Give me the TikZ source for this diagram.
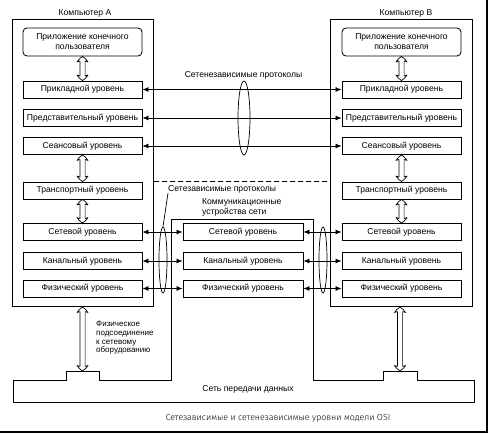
\documentclass[tikz,border=0pt]{standalone}
\usepackage{fontspec}
\setmainfont{Liberation Sans}
\newfontfamily\capfont{Fira Sans Light}
\usetikzlibrary{arrows.meta,shapes.geometric,calc}
\newcommand\hollowarr[2]{%
  \draw[harrowline] let \p1=(#1), \p2=(#2) in
    (\x1,\y1) to[bend left=12] (\x1+5.5pt,\y1-5.5pt) -- (\x1+2.6pt,\y1-4.6pt)
    -- (\x2+2.6pt,\y2+4.6pt) -- (\x2+5.5pt,\y2+5.5pt) to[bend left=12] (\x2,\y2)
    to[bend left=12] (\x2-5.5pt,\y2+5.5pt) -- (\x2-2.6pt,\y2+4.6pt)
    -- (\x1-2.6pt,\y1-4.6pt) -- (\x1-5.5pt,\y1-5.5pt) to[bend left=12] cycle;}
\begin{document}
\begin{tikzpicture}[x=1pt,y=-1pt,
  lay/.style={draw, line width=0.85pt, minimum width=119pt, minimum height=17pt, inner sep=0pt, font=\fontsize{8.6}{10}\selectfont},
  outerbox/.style={draw, line width=0.9pt, anchor=north west, inner sep=0pt},
  harrowline/.style={line width=0.7pt, fill=white, line join=round},
  farrow/.style={line width=0.8pt, {Latex[length=6pt,width=5pt]}-{Latex[length=6pt,width=5pt]}},
  lbl/.style={font=\fontsize{8.6}{10}\selectfont, inner sep=0pt},
  oval/.style={draw, ellipse, line width=0.7pt, inner sep=0pt},
]
\useasboundingbox (0,0) rectangle (489,435);
% frame edges
\draw[line width=1.2pt] (0,432) -- (487,432) -- (487,0);
% outer computer boxes
\node[outerbox, minimum width=141pt, minimum height=287pt] (A) at (12,19) {};
\node[outerbox, minimum width=142pt, minimum height=287pt] (B) at (330,19) {};
\node[lbl] (tA) at (85,13) {Компьютер А};
\node[lbl] (tB) at (406,13) {Компьютер В};
% computer A
\node[lay, rounded corners=4pt, minimum height=28pt, align=center] (Aapp) at (82.5,42) {Приложение конечного\\пользователя};
\node[lay] (Apri) at (82.5,89.5) {Прикладной уровень};
\node[lay] (Apre) at (82.5,118) {Представительный уровень};
\node[lay] (Asea) at (82.5,146) {Сеансовый уровень};
\node[lay] (Atra) at (82.5,190.5) {Транспортный уровень};
\node[lay] (Aset) at (82.5,232) {Сетевой уровень};
\node[lay] (Akan) at (82.5,261) {Канальный уровень};
\node[lay] (Afiz) at (82.5,288.5) {Физический уровень};
% computer B
\node[lay, rounded corners=4pt, minimum height=28pt, align=center] (Bapp) at (401.5,42) {Приложение конечного\\пользователя};
\node[lay] (Bpri) at (401.5,89.5) {Прикладной уровень};
\node[lay] (Bpre) at (401.5,118) {Представительный уровень};
\node[lay] (Bsea) at (401.5,146) {Сеансовый уровень};
\node[lay] (Btra) at (401.5,190.5) {Транспортный уровень};
\node[lay] (Bset) at (401.5,232) {Сетевой уровень};
\node[lay] (Bkan) at (401.5,261) {Канальный уровень};
\node[lay] (Bfiz) at (401.5,288.5) {Физический уровень};
% communication devices
\node[lay, minimum width=120pt] (Cset) at (243,232) {Сетевой уровень};
\node[lay, minimum width=120pt] (Ckan) at (243,261) {Канальный уровень};
\node[lay, minimum width=120pt] (Cfiz) at (243,288.5) {Физический уровень};
% network + comm box outline
\draw[line width=0.9pt] (313,380) -- (383,380) -- (383,371) -- (417,371) -- (417,380) -- (474,380) -- (474,402) -- (13,402) -- (13,380) -- (66,380) -- (66,371) -- (99,371) -- (99,380) -- (171,380) -- (171,219) -- (313,219) -- cycle;
\node[lbl] (net) at (248,389) {Сеть передачи данных};
\coordinate (bumpA) at (82.5,371);
\coordinate (bumpB) at (400,371);
\coordinate (topA) at (82.5,307);
\coordinate (topB) at (400,307);
% dashed separator
\draw[line width=0.7pt, dash pattern=on 5pt off 3pt] (A.east |- 0,181) -- (B.west |- 0,181);
% hollow vertical arrows
\hollowarr{Aapp.south}{Apri.north}
\hollowarr{Asea.south}{Atra.north}
\hollowarr{Atra.south}{Aset.north}
\hollowarr{Bapp.south}{Bpri.north}
\hollowarr{Bsea.south}{Btra.north}
\hollowarr{Btra.south}{Bset.north}
\hollowarr{topA}{bumpA}
\hollowarr{topB}{bumpB}
% upper protocols
\draw[farrow] (Apri) -- (Bpri);
\draw[farrow] (Apre) -- (Bpre);
\draw[farrow] (Asea) -- (Bsea);
\node[oval, minimum width=12pt, minimum height=74pt] (e1) at (244,118) {};
\node[lbl] (ltop) at (243.5,75) {Сетенезависимые протоколы};
% lower protocols
\draw[farrow] (Aset) -- (Cset);
\draw[farrow] (Akan) -- (Ckan);
\draw[farrow] (Afiz) -- (Cfiz);
\draw[farrow] (Cset) -- (Bset);
\draw[farrow] (Ckan) -- (Bkan);
\draw[farrow] (Cfiz) -- (Bfiz);
\node[oval, minimum width=8pt, minimum height=66pt] (e2) at (163,260) {};
\node[oval, minimum width=8pt, minimum height=66pt] (e3) at (323,260) {};
\node[lbl, anchor=west] (lsz) at (168,189) {Сетезависимые протоколы};
\draw[line width=0.7pt] (lsz.south west) -- (e2.north);
\node[lbl, anchor=west, align=left] (lcom) at (202,207.5) {Коммуникационные\\устройства сети};
\node[lbl, anchor=west, align=left, font=\fontsize{8}{8.7}\selectfont] (lphys) at (96,338) {Физическое\\подсоединение\\к сетевому\\оборудованию};
% caption
\node[inner sep=0pt, font=\capfont\fontsize{8.8}{11}\selectfont] (cap) at (278,418) {Сетезависимые и сетенезависимые уровни модели OSI};
\end{tikzpicture}
\end{document}
